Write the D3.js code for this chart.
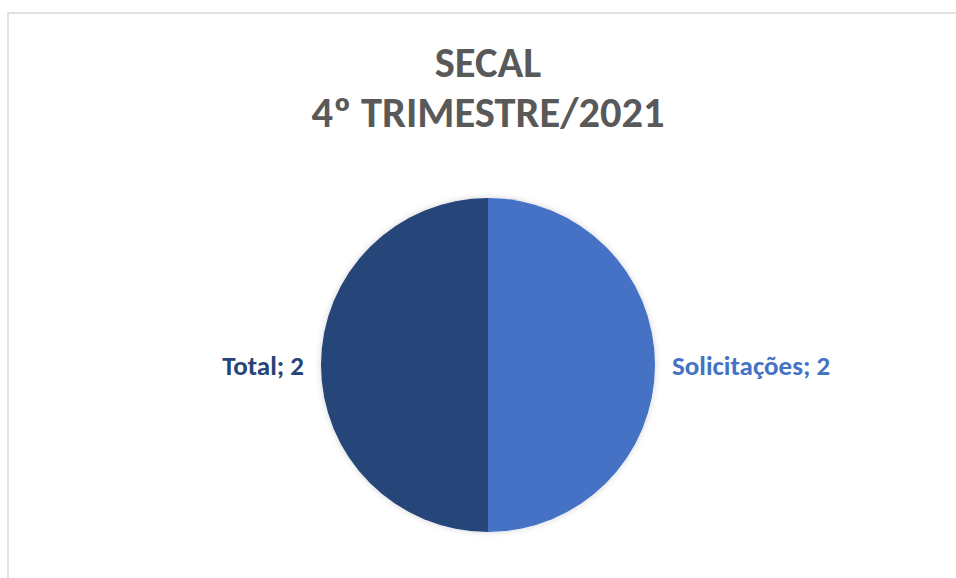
<!DOCTYPE html>
<html>
<head>
<meta charset="utf-8">
<script src="https://cdn.jsdelivr.net/npm/d3@7"></script>
<style>
  body { margin: 0; background: #fff; }
  svg { display: block; font-family: Carlito, Calibri, Lato, sans-serif; }
</style>
</head>
<body>
<div class="pie-viz"></div>
<script>
// chart data
const categories = ["Solicitações", "Total"];
const values = [2, 2];
const titleLines = ["SECAL", "4º TRIMESTRE/2021"];

const width = 956, height = 578;

const svg = d3.select(".pie-viz")
  .append("svg")
    .attr("width", width)
    .attr("height", height);

// chart area border (runs off the right and bottom of the page)
svg.append("rect")
  .attr("x", 8)
  .attr("y", 13)
  .attr("width", 960)
  .attr("height", 580)
  .attr("fill", "#fff")
  .attr("stroke", "#d9d9d9")
  .attr("stroke-width", 1.5);

// title
svg.append("g")
  .selectAll("text")
  .data(titleLines)
  .join("text")
    .attr("x", 488)
    .attr("y", (d, i) => 77 + i * 50)
    .attr("text-anchor", "middle")
    .attr("fill", "#595959")
    .attr("font-weight", "bold")
    .attr("font-size", 42.5)
    .text(d => d);

// soft shadow like the office chart
const defs = svg.append("defs");
const filter = defs.append("filter").attr("id", "shadow")
  .attr("x", "-20%").attr("y", "-20%").attr("width", "140%").attr("height", "140%");
filter.append("feDropShadow")
  .attr("dx", 0).attr("dy", 0).attr("stdDeviation", 3)
  .attr("flood-color", "#000").attr("flood-opacity", 0.18);

const color = d3.scaleOrdinal()
  .domain(categories)
  .range(["#4472c4", "#264478"]);

const radius = 167;
const pie = d3.pie().sort(null).value(d => d.value);
const arc = d3.arc().innerRadius(0).outerRadius(radius);

const data = categories.map((c, i) => ({ name: c, value: values[i] }));
const arcs = pie(data);

const g = svg.append("g")
  .attr("transform", "translate(488,365)");

g.append("g")
  .attr("filter", "url(#shadow)")
  .selectAll("path")
  .data(arcs)
  .join("path")
    .attr("d", arc)
    .attr("fill", d => color(d.data.name));

// data labels outside end
const labelR = radius + 17;
g.selectAll(".label")
  .data(arcs)
  .join("text")
    .attr("class", "label")
    .attr("x", d => {
      const a = (d.startAngle + d.endAngle) / 2;
      return Math.sin(a) * labelR;
    })
    .attr("y", 10)
    .attr("text-anchor", d => ((d.startAngle + d.endAngle) / 2) < Math.PI ? "start" : "end")
    .attr("fill", d => color(d.data.name))
    .attr("font-weight", "bold")
    .attr("font-size", 27)
    .text(d => `${d.data.name}; ${d.data.value}`);
</script>
</body>
</html>
